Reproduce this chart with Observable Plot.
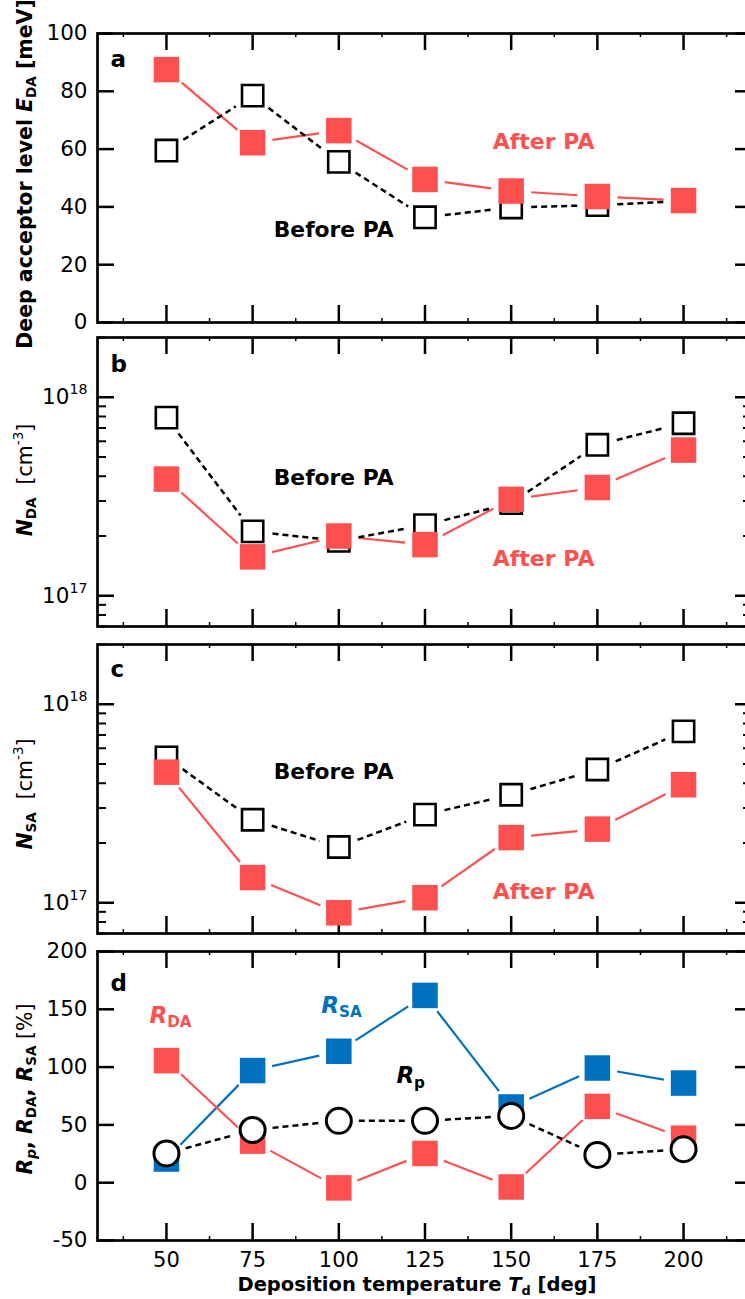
<!DOCTYPE html>
<html><head><meta charset="utf-8">
<script src="https://cdn.jsdelivr.net/npm/d3@7"></script>
<script src="https://cdn.jsdelivr.net/npm/@observablehq/plot@0.6"></script>
<style>
html,body{margin:0;padding:0;background:#fff;overflow:hidden;}
#wrap{position:relative;width:745px;height:1299px;overflow:hidden;background:#fff;}
#wrap svg{position:absolute;left:0;max-width:none;overflow:visible;}
</style></head><body><div id="wrap"></div>
<script>
// ---- data ----
const temps = [50, 75, 100, 125, 150, 175, 200];
const eDA_before = [59.5, 78.5, 55.6, 36.4, 39.8, 40.6, 42.0];
const eDA_after  = [87.5, 62.2, 66.4, 49.5, 45.5, 43.6, 42.2];
const nDA_before = [7.9e17, 2.11e17, 1.89e17, 2.27e17, 2.93e17, 5.76e17, 7.4e17];
const nDA_after  = [3.87e17, 1.57e17, 2.0e17, 1.81e17, 3.06e17, 3.51e17, 5.42e17];
const nSA_before = [5.4e17, 2.62e17, 1.91e17, 2.78e17, 3.5e17, 4.69e17, 7.3e17];
const nSA_after  = [4.55e17, 1.34e17, 8.9e16, 1.06e17, 2.13e17, 2.35e17, 3.93e17];
const rP  = [25.3, 45.6, 53.5, 53.5, 57.8, 24.0, 29.0];
const rDA = [105.6, 36.0, -4.5, 25.3, -3.7, 66.0, 38.5];
const rSA = [20.5, 97.0, 113.7, 162.0, 65.5, 99.2, 86.2];
const xTicks = [50, 75, 100, 125, 150, 175, 200];
const xMinor = [37.5, 62.5, 87.5, 112.5, 137.5, 162.5, 187.5, 212.5];
const yTicksA = [0, 20, 40, 60, 80, 100];
const yTicksD = [-50, 0, 50, 100, 150, 200];
const logMajor = [1e17, 1e18];
const logMinor = [7e16, 8e16, 9e16, 2e17, 3e17, 4e17, 5e17, 6e17, 7e17, 8e17, 9e17, 2e18];

const RED = "#FF5050", BLUE = "#0070C0";
const FONT = "DejaVu Sans";
const W = 760, ML = 97, MR = 8, IW = W - ML - MR, IH = 289, MT = 20;
const wrap = document.getElementById("wrap");

const pts = (ys) => temps.map((t, i) => ({x: t, y: ys[i]}));
const segs = (ys) => d3.pairs(pts(ys)).map(([a, b]) => ({x1: a.x, y1: a.y, x2: b.x, y2: b.y}));

function line(ys, stroke, dashed) {
  return Plot.arrow(segs(ys), {x1: "x1", y1: "y1", x2: "x2", y2: "y2", headLength: 0,
    insetStart: 20, insetEnd: 20, stroke, strokeWidth: dashed ? 2.5 : 2.2,
    strokeDasharray: dashed ? "6,4" : null, strokeLinecap: "butt"});
}
const openSq = (ys) => Plot.dot(pts(ys), {x: "x", y: "y", symbol: "square", r: 12.0, fill: "white", stroke: "black", strokeWidth: 2.6});
const fillSq = (ys, c) => Plot.dot(pts(ys), {x: "x", y: "y", symbol: "square", r: 14.4, fill: c, stroke: "none"});
const circ = (ys) => Plot.dot(pts(ys), {x: "x", y: "y", symbol: "circle", r: 12.5, fill: "white", stroke: "black", strokeWidth: 3});

function frameMarks(yMajor, yMinor) {
  const m = [
    Plot.frame({stroke: "black", strokeWidth: 2.7}),
    Plot.tickX(xTicks, {x: d => d, insetBottom: IH - 17, strokeWidth: 2.5}),
    Plot.tickX(xTicks, {x: d => d, insetTop: IH - 17, strokeWidth: 2.5}),
    Plot.tickX(xMinor, {x: d => d, insetBottom: IH - 4, strokeWidth: 1.5}),
    Plot.tickX(xMinor, {x: d => d, insetTop: IH - 4, strokeWidth: 1.5}),
    Plot.tickY(yMajor, {y: d => d, insetRight: IW - 17, strokeWidth: 2.5}),
    Plot.tickY(yMajor, {y: d => d, insetLeft: IW - 17, strokeWidth: 2.5})
  ];
  if (yMinor) {
    m.push(Plot.tickY(yMinor, {y: d => d, insetRight: IW - 9, strokeWidth: 2}));
    m.push(Plot.tickY(yMinor, {y: d => d, insetLeft: IW - 9, strokeWidth: 2}));
  }
  return m;
}

function rich(el, parts) {
  const size = parseFloat(getComputedStyle(el).fontSize);
  const t = d3.select(el); t.text(null);
  let cur = 0;
  for (const s of parts) {
    const sp = t.append("tspan").text(s.t);
    const target = s.sub ? 0.2 * size : s.sup ? -0.45 * size : 0;
    if (s.sub || s.sup) sp.attr("font-size", size * 0.66);
    if (target !== cur) { sp.attr("dy", target - cur); cur = target; }
    sp.attr("font-weight", s.b ? "bold" : "normal");
    if (s.i) sp.attr("font-style", "italic");
  }
}

const RICH = {
  "R_DA": [{t: "R", b: 1, i: 1}, {t: "DA", b: 1, sub: 1}],
  "R_SA": [{t: "R", b: 1, i: 1}, {t: "SA", b: 1, sub: 1}],
  "R_p":  [{t: "R", b: 1, i: 1}, {t: "p", b: 1, sub: 1}],
  "10^17": [{t: "10"}, {t: "17", sup: 1}],
  "10^18": [{t: "10"}, {t: "18", sup: 1}]
};

function title(svg, x, y, rotate, parts, size) {
  const t = d3.select(svg).append("text")
    .attr("x", x).attr("y", y).attr("text-anchor", "middle")
    .attr("font-size", size).attr("font-family", FONT).attr("fill", "black");
  if (rotate) t.attr("transform", `rotate(-90,${x},${y})`);
  rich(t.node(), parts);
}

function panel(top, yOpts, marks, mb, yTitle, yTitleCenter) {
  const H = MT + IH + mb;
  const svg = Plot.plot({
    width: W, height: H, marginLeft: ML, marginRight: MR, marginTop: MT, marginBottom: mb,
    x: {domain: [30, 220], axis: null},
    y: {...yOpts, axis: null},
    style: {fontFamily: FONT, fontSize: "20px", overflow: "visible", maxWidth: "none", background: "transparent"},
    marks
  });
  svg.style.top = (top - MT) + "px";
  wrap.appendChild(svg);
  d3.select(svg).selectAll("text").each(function () {
    const k = this.textContent;
    if (RICH[k]) rich(this, RICH[k]);
  });
  title(svg, 32, yTitleCenter - (top - MT), true, yTitle, 20.5);
  return svg;
}

const yAxisLin = (ticks) => Plot.axisY({ticks, tickSize: 0, tickPadding: 10, fontSize: 21.5, label: null, tickFormat: d => String(d)});
const yAxisLog = Plot.axisY({ticks: logMajor, tickSize: 0, tickPadding: 10, fontSize: 21.5, label: null, tickFormat: d => "10^" + Math.round(Math.log10(d))});
const ann = (txt, x, y, fill, size, anchor = "middle") =>
  Plot.text([{x, y, t: txt}], {x: "x", y: "y", text: "t", fill, fontSize: size, fontWeight: "bold", textAnchor: anchor, lineAnchor: "bottom"});

// ---- panel a ----
panel(33, {domain: [0, 100]}, [
  ...frameMarks(yTicksA),
  yAxisLin(yTicksA),
  line(eDA_after, RED, false),
  line(eDA_before, "black", true),
  openSq(eDA_before),
  fillSq(eDA_after, RED),
  ann("a", 33.8, 88.3, "black", 23, "start"),
  ann("After PA", 159.4, 60.2, RED, 22),
  ann("Before PA", 98.5, 29.5, "black", 21.8)
], 20, [{t: "Deep acceptor level ", b: 1}, {t: "E", b: 1, i: 1}, {t: "DA", b: 1, sub: 1}, {t: " [meV]", b: 1}], 174);

// ---- panel b ----
panel(337, {type: "log", domain: [7e16, 2e18]}, [
  ...frameMarks(logMajor, logMinor),
  yAxisLog,
  line(nDA_after, RED, false),
  line(nDA_before, "black", true),
  openSq(nDA_before),
  fillSq(nDA_after, RED),
  ann("b", 33.8, 1.338e18, "black", 23, "start"),
  ann("Before PA", 98.5, 3.61e17, "black", 21.8),
  ann("After PA", 159.4, 1.41e17, RED, 22)
], 20, [{t: "N", b: 1, i: 1}, {t: "DA", b: 1, sub: 1}, {t: "  [cm"}, {t: "-3", sup: 1}, {t: "]"}], 480);

// ---- panel c ----
panel(644, {type: "log", domain: [7e16, 2e18]}, [
  ...frameMarks(logMajor, logMinor),
  yAxisLog,
  line(nSA_after, RED, false),
  line(nSA_before, "black", true),
  openSq(nSA_before),
  fillSq(nSA_after, RED),
  ann("c", 33.8, 1.374e18, "black", 23, "start"),
  ann("Before PA", 98.5, 4.18e17, "black", 21.8),
  ann("After PA", 159.4, 1.04e17, RED, 22)
], 20, [{t: "N", b: 1, i: 1}, {t: "SA", b: 1, sub: 1}, {t: "  [cm"}, {t: "-3", sup: 1}, {t: "]"}], 794);

// ---- panel d ----
const svgD = panel(951, {domain: [-50, 200]}, [
  ...frameMarks(yTicksD),
  yAxisLin(yTicksD),
  Plot.axisX({ticks: xTicks, tickSize: 0, tickPadding: 12, fontSize: 21, label: null, anchor: "bottom"}),
  line(rSA, BLUE, false),
  line(rDA, RED, false),
  line(rP, "black", true),
  fillSq(rSA, BLUE),
  fillSq(rDA, RED),
  circ(rP),
  ann("d", 33.8, 165.9, "black", 23, "start"),
  ann("R_DA", 45.1, 138.4, RED, 23, "start"),
  ann("R_SA", 94.9, 147, BLUE, 23, "start"),
  ann("R_p", 116.7, 86.2, "black", 23, "start")
], 58, [{t: "R", b: 1, i: 1}, {t: "p", b: 1, i: 1, sub: 1}, {t: ", ", b: 1}, {t: "R", b: 1, i: 1}, {t: "DA", b: 1, sub: 1}, {t: ", ", b: 1}, {t: "R", b: 1, i: 1}, {t: "SA", b: 1, sub: 1}, {t: " [%]"}], 1089);

title(svgD, 417, 1291 - (951 - MT), false,
  [{t: "Deposition temperature ", b: 1}, {t: "T", b: 1, i: 1}, {t: "d", b: 1, sub: 1}, {t: " [deg]", b: 1}], 19.5);
</script></body></html>
